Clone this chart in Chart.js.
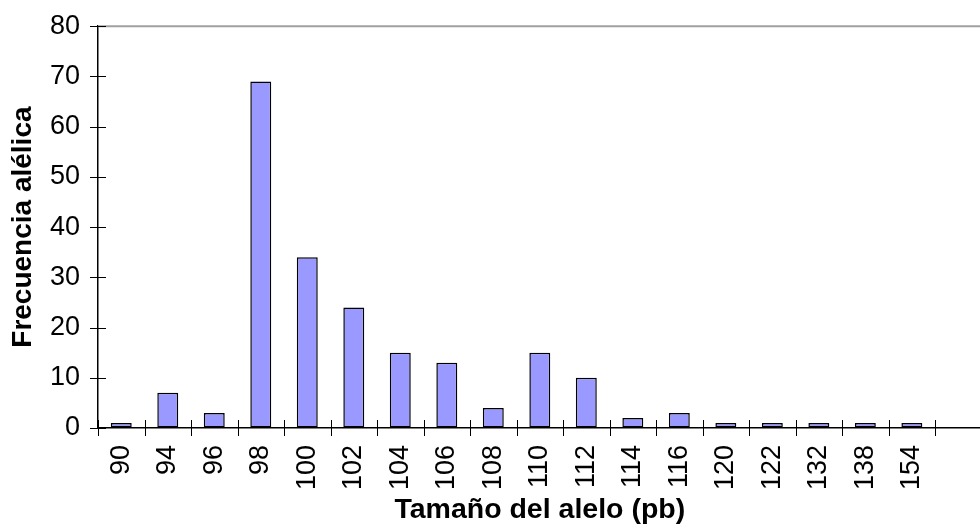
<!DOCTYPE html>
<html>
<head>
<meta charset="utf-8">
<script src="https://cdn.jsdelivr.net/npm/chart.js@4"></script>
<style>
  html, body { margin: 0; padding: 0; background: #fff; overflow: hidden; }
  #wrap { width: 1000px; height: 529px; position: relative; }
</style>
</head>
<body>
<div id="wrap"><canvas id="chart"></canvas></div>
<script>
// allele sizes (bp); the last empty slot is cut off by the picture's edge
var xValues = ["90", "94", "96", "98", "100", "102", "104", "106", "108", "110",
               "112", "114", "116", "120", "122", "132", "138", "154", ""];
var yValues = [1, 7, 3, 69, 34, 24, 15, 13, 4, 15, 10, 2, 3, 1, 1, 1, 1, 1, null];
var yTicks = [0, 10, 20, 30, 40, 50, 60, 70, 80];

var FONT = "'Liberation Sans', Arial, sans-serif";

// Excel style cross tick marks + grey top border of the plot area
var crossTicks = {
  id: "crossTicks",
  afterDraw: function(chart){
    var ctx = chart.ctx;
    var a = chart.chartArea;
    var x = chart.scales.x, y = chart.scales.y;
    ctx.save();
    ctx.strokeStyle = "#a0a0a0";
    ctx.lineWidth = 2;
    ctx.beginPath();
    ctx.moveTo(a.left, a.top);
    ctx.lineTo(a.right + 20, a.top);
    ctx.stroke();

    ctx.strokeStyle = "#000";
    ctx.lineWidth = 1;
    ctx.beginPath();
    yTicks.forEach(function(v){
      var py = Math.round(y.getPixelForValue(v)) + 0.5;
      ctx.moveTo(a.left - 8, py);
      ctx.lineTo(a.left + 8, py);
    });
    for (var i = 0; i <= xValues.length; i++) {
      var px = Math.round(x.getPixelForValue(i - 0.5)) + 0.5;
      ctx.moveTo(px, a.bottom - 8);
      ctx.lineTo(px, a.bottom + 8);
    }
    ctx.stroke();
    ctx.restore();
  }
};

new Chart("chart", {
  type: "bar",
  data: {
    labels: xValues,
    datasets: [{
      data: yValues,
      backgroundColor: "#9999ff",
      borderColor: "#000",
      borderWidth: 1.5,
      borderSkipped: false,
      barPercentage: 0.45,
      categoryPercentage: 1
    }]
  },
  options: {
    responsive: true,
    maintainAspectRatio: false,
    animation: false,
    layout: { padding: { top: 24, right: 9, left: 0, bottom: 0 } },
    plugins: {
      legend: { display: false },
      tooltip: { enabled: false }
    },
    scales: {
      x: {
        grid: { display: true, drawOnChartArea: false, drawTicks: true, tickLength: 8, color: "rgba(0,0,0,0)" },
        border: { display: true, color: "#000", width: 1.5 },
        ticks: {
          color: "#000",
          font: { family: FONT, size: 27 },
          minRotation: 90, maxRotation: 90,
          padding: 9,
          autoSkip: false
        },
        title: {
          display: true,
          text: "Tamaño del alelo (pb)",
          color: "#000",
          font: { family: FONT, size: 28.5, weight: "bold" },
          padding: { top: 0, bottom: 2 }
        },
        afterFit: function(s){ s.height = 101; }
      },
      y: {
        min: 0, max: 80,
        grid: { display: true, drawOnChartArea: false, drawTicks: true, tickLength: 8, color: "rgba(0,0,0,0)" },
        border: { display: true, color: "#000", width: 1.5 },
        ticks: {
          stepSize: 10,
          color: "#000",
          font: { family: FONT, size: 27 },
          padding: 10
        },
        title: {
          display: true,
          text: "Frecuencia alélica",
          color: "#000",
          font: { family: FONT, size: 28, weight: "bold" },
          padding: { top: 6, bottom: 0 }
        },
        afterFit: function(s){ s.width = 98; }
      }
    }
  },
  plugins: [crossTicks]
});
</script>
</body>
</html>
